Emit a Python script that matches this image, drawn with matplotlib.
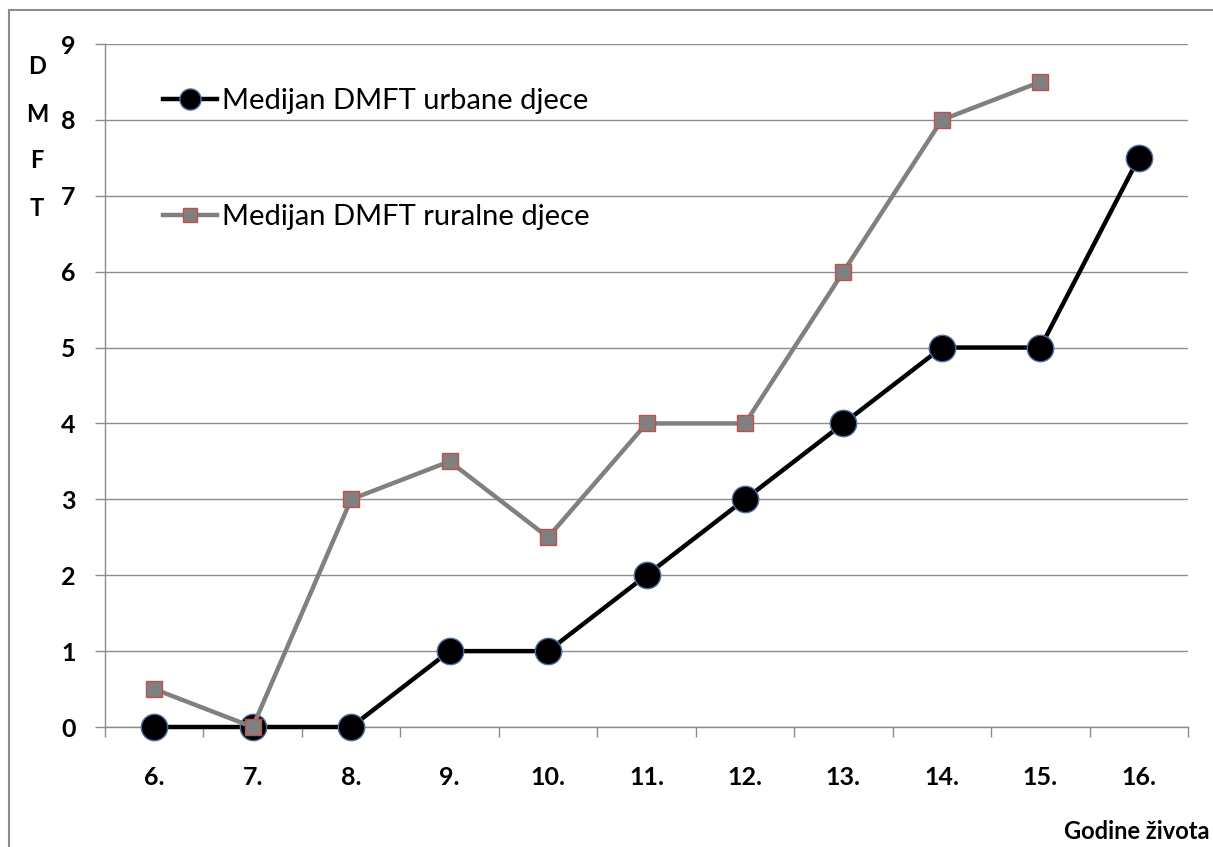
import numpy as np
import matplotlib.pyplot as plt
from matplotlib.patches import Rectangle

plt.rcParams['font.family'] = ['Lato', 'DejaVu Sans']

# data
years = ['6.', '7.', '8.', '9.', '10.', '11.', '12.', '13.', '14.', '15.', '16.']
urban = [0, 0, 0, 1, 1, 2, 3, 4, 5, 5, 7.5]
rural = [0.5, 0, 3, 3.5, 2.5, 4, 4, 6, 8, 8.5, np.nan]
yticks = [0, 1, 2, 3, 4, 5, 6, 7, 8, 9]

W, H = 1213, 847
fig = plt.figure(figsize=(W / 100, H / 100), dpi=100)
ax = fig.add_axes([105 / W, 1 - 727 / H, (1188 - 105) / W, (727 - 44) / H])

x = np.arange(len(years))
ax.plot(x, urban, color='black', lw=3.2, marker='o', ms=19,
        mfc='black', mec='#4a6fa5', mew=1, zorder=3, clip_on=False,
        label='Medijan DMFT urbane djece')
ax.plot(x, rural, color='#808080', lw=3.2, marker='s', ms=12,
        mfc='#808080', mec='#c0504d', mew=1, zorder=4, clip_on=False,
        label='Medijan DMFT ruralne djece')

ax.set_xlim(-0.5, len(years) - 0.5)
ax.set_ylim(0, 9)
ax.set_xticks(x)
ax.set_xticklabels(years, fontsize=18, fontweight='bold')
ax.set_xticks(np.arange(-0.5, len(years)), minor=True)
ax.tick_params(axis='x', which='major', length=0, pad=28)
ax.tick_params(axis='x', which='minor', length=7, color='#8c8c8c', width=1, direction='out')
ax.set_yticks(yticks)
ax.set_yticklabels([str(v) for v in yticks], fontsize=18, fontweight='bold')
ax.tick_params(axis='y', length=7, color='#8c8c8c', width=1, pad=14)
ax.grid(axis='y', color='#8c8c8c', lw=1)
ax.set_axisbelow(True)

for s in ['top', 'right']:
    ax.spines[s].set_visible(False)
for s in ['left', 'bottom']:
    ax.spines[s].set_color('#8c8c8c')
    ax.spines[s].set_linewidth(1)

leg = ax.legend(loc='upper left', bbox_to_anchor=(0.054, 0.936), frameon=False,
                fontsize=21, handlelength=1.85, handletextpad=0.15,
                labelspacing=3.1, borderpad=0, borderaxespad=0)
for h in leg.legend_handles:
    h.set_markersize(h.get_markersize() * 0.8)

# stacked y label
for i, ch in enumerate('DMFT'):
    fig.text(37 / W, 1 - (67 + 47 * i) / H, ch, fontsize=17, fontweight='bold',
             ha='center', va='center')

fig.text(1209 / W, 1 - 831 / H, 'Godine života', fontsize=17, fontweight='bold',
         ha='right', va='center')

# outer chart frame
fig.patches.append(Rectangle((9 / W, -0.05), 1.2, 1 - 10 / H + 0.05,
                             transform=fig.transFigure, fill=False,
                             edgecolor='#8c8c8c', lw=1.5))

fig.savefig('out.png', dpi=100)
